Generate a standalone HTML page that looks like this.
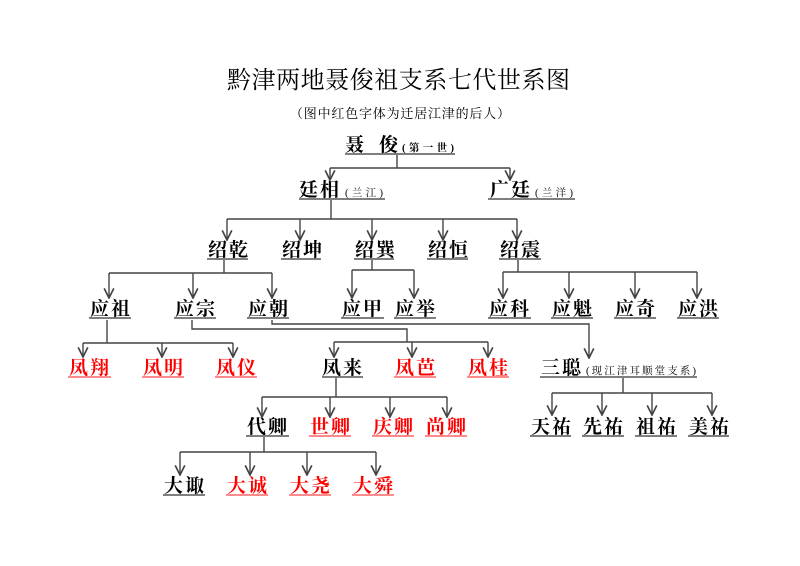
<!DOCTYPE html>
<html><head><meta charset="utf-8"><style>
html,body{margin:0;padding:0;background:#fff;}
svg{display:block;}
text{font-family:"Liberation Serif","Noto Serif CJK SC",serif;}
.n{font-size:19px;font-weight:bold;letter-spacing:2px;}
.r{fill:#f00;}
.s{font-size:10.5px;letter-spacing:0;}
</style></head><body>
<svg width="800" height="566" viewBox="0 0 800 566" xmlns="http://www.w3.org/2000/svg">
<defs>
<marker id="a" markerUnits="userSpaceOnUse" markerWidth="12" markerHeight="12" refX="9" refY="5" orient="auto" viewBox="0 0 10 10">
<path d="M1,1 L9,5 L1,9" fill="none" stroke="#444" stroke-width="1.4"/>
</marker>
</defs>
<text x="227" y="88" font-size="24" textLength="343" lengthAdjust="spacing">黔津两地聂俊祖支系七代世系图</text>
<text x="290" y="118" font-size="13" textLength="220" lengthAdjust="spacing">（图中红色字体为迁居江津的后人）</text>

<g stroke="#444" stroke-width="1.4" fill="none">
<path d="M397 155V168M330 168H510"/>
<path d="M330 168V180" marker-end="url(#a)"/><path d="M510 168V180" marker-end="url(#a)"/>
<path d="M331 200V219M227 219H517"/>
<path d="M227 219V240" marker-end="url(#a)"/><path d="M300 219V240" marker-end="url(#a)"/><path d="M372 219V240" marker-end="url(#a)"/><path d="M443 219V240" marker-end="url(#a)"/><path d="M517 219V240" marker-end="url(#a)"/>
<path d="M224 260V273M109 273H272"/>
<path d="M109 273V298" marker-end="url(#a)"/><path d="M193 273V298" marker-end="url(#a)"/><path d="M272 273V298" marker-end="url(#a)"/>
<path d="M372 260V270M352 270H414"/>
<path d="M352 270V298" marker-end="url(#a)"/><path d="M414 270V298" marker-end="url(#a)"/>
<path d="M518 260V272M503 272H697"/>
<path d="M503 272V298" marker-end="url(#a)"/><path d="M569 272V298" marker-end="url(#a)"/><path d="M635 272V298" marker-end="url(#a)"/><path d="M697 272V298" marker-end="url(#a)"/>
<path d="M107 320V343M83 343H233"/>
<path d="M83 343V357" marker-end="url(#a)"/><path d="M162 343V357" marker-end="url(#a)"/><path d="M233 343V357" marker-end="url(#a)"/>
<path d="M192 320V329H407V342M334 342H488"/>
<path d="M334 342V357" marker-end="url(#a)"/><path d="M412 342V357" marker-end="url(#a)"/><path d="M488 342V357" marker-end="url(#a)"/>
<path d="M272 320V324H589V358" marker-end="url(#a)"/>
<path d="M336 378V397M262 397H447"/>
<path d="M262 397V417" marker-end="url(#a)"/><path d="M330 397V417" marker-end="url(#a)"/><path d="M390 397V417" marker-end="url(#a)"/><path d="M447 397V417" marker-end="url(#a)"/>
<path d="M623 378V393M552 393H712"/>
<path d="M552 393V415" marker-end="url(#a)"/><path d="M602 393V415" marker-end="url(#a)"/><path d="M652 393V415" marker-end="url(#a)"/><path d="M712 393V415" marker-end="url(#a)"/>
<path d="M264 437V452M180 452H376"/>
<path d="M180 452V475" marker-end="url(#a)"/><path d="M250 452V475" marker-end="url(#a)"/><path d="M307 452V475" marker-end="url(#a)"/><path d="M376 452V475" marker-end="url(#a)"/>
</g>

<g stroke="#555" stroke-width="1.5">
<path d="M345 154H455M299 199H385M488 199H575"/>
<path d="M207 259H248M281 259H321M354 259H394M427 259H468M499 259H541"/>
<path d="M89 318H131M174 318H216M247 318H289M341 318H384M394 318H436M488 318H531M551 318H593M614 318H656M677 318H719"/>
<path d="M322 377H363M540 377H697"/>
<path d="M246 436H289M530 436H571M582 436H624M635 436H677M688 436H729"/>
<path d="M163 495H205"/>
</g>
<g stroke="#f66" stroke-width="1.5">
<path d="M68 377H111M142 377H184M215 377H257M394 377H436M467 377H509"/>
<path d="M309 436H351M372 436H414M425 436H467"/>
<path d="M226 495H268M289 495H331M352 495H394"/>
</g>

<g class="n">
<text x="345" y="151" textLength="55" lengthAdjust="spacing">聂 俊</text>
<text x="299" y="196">廷相</text>
<text x="490" y="196">广廷</text>
<text x="208" y="256">绍乾</text><text x="282" y="256">绍坤</text><text x="355" y="256">绍巽</text><text x="428" y="256">绍恒</text><text x="500" y="256">绍震</text>
<text x="90" y="315">应祖</text><text x="175" y="315">应宗</text><text x="248" y="315">应朝</text><text x="342" y="315">应甲</text><text x="395" y="315">应举</text>
<text x="489" y="315">应科</text><text x="552" y="315">应魁</text><text x="615" y="315">应奇</text><text x="678" y="315">应洪</text>
<text class="r" x="69" y="374">凤翔</text><text class="r" x="143" y="374">凤明</text><text class="r" x="216" y="374">凤仪</text>
<text x="322" y="374">凤来</text><text class="r" x="395" y="374">凤芭</text><text class="r" x="468" y="374">凤桂</text>
<text x="541" y="374">三聪</text>
<text x="247" y="433">代卿</text><text class="r" x="310" y="433">世卿</text><text class="r" x="373" y="433">庆卿</text><text class="r" x="426" y="433">尚卿</text>
<text x="531" y="433">天祐</text><text x="583" y="433">先祐</text><text x="636" y="433">祖祐</text><text x="689" y="433">美祐</text>
<text x="164" y="492">大诹</text><text class="r" x="227" y="492">大诚</text><text class="r" x="290" y="492">大尧</text><text class="r" x="353" y="492">大舜</text>
</g>
<g class="s">
<text x="402" y="151" font-weight="bold" textLength="52" lengthAdjust="spacing">(第一世)</text>
<text x="345" y="196" textLength="38" lengthAdjust="spacing">(兰江)</text>
<text x="535" y="196" textLength="38" lengthAdjust="spacing">(兰洋)</text>
<text x="586" y="374" textLength="110" lengthAdjust="spacing">(现江津耳顺堂支系)</text>
</g>
</svg>
</body></html>
